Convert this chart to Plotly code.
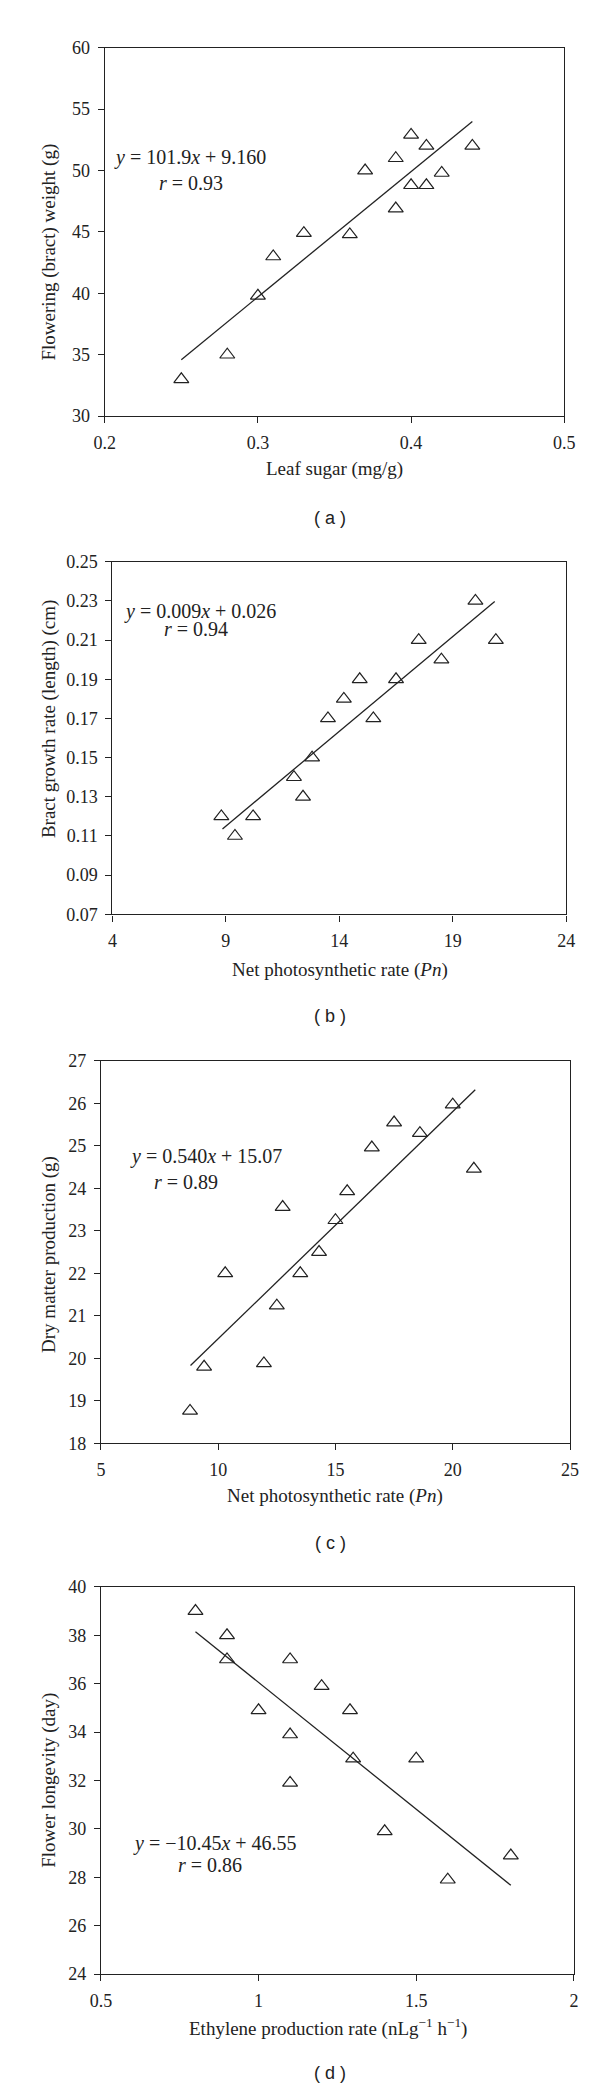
import plotly.graph_objects as go

W, H = 600, 2094

# (a) leaf sugar vs flowering weight
a_x = [0.25, 0.28, 0.30, 0.31, 0.33, 0.36, 0.37, 0.39, 0.39, 0.40, 0.40, 0.41, 0.41, 0.42, 0.44]
a_y = [33.0, 35.0, 39.8, 43.0, 44.9, 44.8, 50.0, 51.0, 46.9, 52.9, 48.8, 52.0, 48.8, 49.8, 52.0]
a_fit_x = [0.25, 0.44]
a_fit_y = [34.6, 54.0]

# (b) Pn vs bract growth rate
b_x = [8.8, 9.4, 10.2, 12.0, 12.4, 12.8, 13.5, 14.2, 14.9, 15.5, 16.5, 17.5, 18.5, 20.0, 20.9]
b_y = [0.12, 0.11, 0.12, 0.14, 0.13, 0.15, 0.17, 0.18, 0.19, 0.17, 0.19, 0.21, 0.20, 0.23, 0.21]
b_fit_x = [8.85, 20.85]
b_fit_y = [0.1136, 0.2297]

# (c) Pn vs dry matter
c_x = [8.8, 9.4, 10.3, 11.95, 12.5, 12.75, 13.5, 14.3, 15.0, 15.5, 16.55, 17.5, 18.6, 20.0, 20.9]
c_y = [18.76, 19.8, 22.0, 19.88, 21.24, 23.56, 22.0, 22.5, 23.25, 23.93, 24.96, 25.55, 25.3, 25.97, 24.46]
c_fit_x = [8.82, 20.96]
c_fit_y = [19.83, 26.32]

# (d) ethylene vs flower longevity
d_x = [0.8, 0.9, 0.9, 1.0, 1.1, 1.1, 1.1, 1.2, 1.29, 1.3, 1.4, 1.5, 1.6, 1.8]
d_y = [39.0, 38.0, 37.0, 34.9, 37.0, 33.9, 31.9, 35.9, 34.9, 32.9, 29.9, 32.9, 27.9, 28.9]
d_fit_x = [0.8, 1.8]
d_fit_y = [38.15, 27.67]

SERIF = "Liberation Serif, Times New Roman, serif"
SANS = "Liberation Sans, Arial, sans-serif"
INK = "#222222"


def px(x):
    return x / W


def py(y):
    return 1 - y / H


fig = go.Figure()

# name, data, box in pixels (left, right, top, bottom), ranges, ticks
panels = [
    ("", a_x, a_y, a_fit_x, a_fit_y, (89, 566, 30, 402), [0.2, 0.5], 0.1, [30, 60], 5, None),
    ("2", b_x, b_y, b_fit_x, b_fit_y, (97, 568, 549, 905), [4, 24], 5, [0.07, 0.25], 0.02, ".2f"),
    ("3", c_x, c_y, c_fit_x, c_fit_y, (85, 572, 1053, 1439), [5, 25], 5, [18, 27], 1, None),
    ("4", d_x, d_y, d_fit_x, d_fit_y, (85, 576, 1584, 1975), [0.5, 2], 0.5, [24, 40], 2, None),
]

axes = {}
for n, xs, ys, fx, fy, box, xr, xd, yr, yd, yfmt in panels:
    l, r, t, b = box
    fig.add_trace(go.Scatter(
        x=fx, y=fy, mode="lines", line=dict(color=INK, width=1.3),
        xaxis="x" + n, yaxis="y" + n, showlegend=False, hoverinfo="skip"
    ))
    fig.add_trace(go.Scatter(
        x=xs, y=ys, mode="markers",
        marker=dict(symbol="triangle-up-open", size=13, color=INK, line=dict(width=1.2, color=INK)),
        xaxis="x" + n, yaxis="y" + n, showlegend=False
    ))
    common = dict(showline=True, linecolor=INK, linewidth=1.3, mirror=True,
                  ticks="outside", ticklen=6, tickwidth=1.3, tickcolor=INK,
                  showgrid=False, zeroline=False, ticklabelstandoff=4,
                  tickfont=dict(family=SERIF, size=18, color=INK))
    axes["xaxis" + n] = dict(common, domain=[px(l), px(r)], range=xr, dtick=xd, tick0=xr[0],
                             anchor="y" + n)
    ya = dict(common, domain=[py(b), py(t)], range=yr, dtick=yd, tick0=yr[0], anchor="x" + n)
    if yfmt:
        ya["tickformat"] = yfmt
    axes["yaxis" + n] = ya

fig.update_layout(**axes)

annos = []


def text(s, x, y, size=19, family=SERIF, angle=0):
    annos.append(dict(text=s, x=px(x), y=py(y), xref="paper", yref="paper",
                      xanchor="center", yanchor="middle", showarrow=False,
                      textangle=angle, font=dict(family=family, size=size, color=INK)))


# equations
text("<i>y</i> = 101.9<i>x</i> + 9.160", 178, 141, size=20)
text("<i>r</i> = 0.93", 179, 167, size=20)
text("<i>y</i> = 0.009<i>x</i> + 0.026", 188, 599, size=20)
text("<i>r</i> = 0.94", 184, 617, size=20)
text("<i>y</i> = 0.540<i>x</i> + 15.07", 194, 1149, size=20)
text("<i>r</i> = 0.89", 173, 1175, size=20)
text("<i>y</i> = −10.45<i>x</i> + 46.55", 203, 1843, size=20)
text("<i>r</i> = 0.86", 198, 1865, size=20)

# axis titles
text("Leaf sugar (mg/g)", 327, 455)
text("Flowering (bract) weight (g)", 31, 236, angle=-90)
text("Net photosynthetic rate (<i>Pn</i>)", 333, 961)
text("Bract growth rate (length) (cm)", 31, 708, angle=-90)
text("Net photosynthetic rate (<i>Pn</i>)", 328, 1492)
text("Dry matter production (g)", 31, 1248, angle=-90)
text("Ethylene production rate (nLg<sup>−1</sup> h<sup>−1</sup>)", 321, 2029)
text("Flower longevity (day)", 31, 1779, angle=-90)

# panel labels
text("( a )", 323, 505, size=18, family=SANS)
text("( b )", 323, 1008, size=18, family=SANS)
text("( c )", 323, 1540, size=18, family=SANS)
text("( d )", 323, 2075, size=18, family=SANS)

fig.update_layout(
    width=W, height=H,
    margin=dict(l=0, r=0, t=0, b=0),
    paper_bgcolor="white", plot_bgcolor="white",
    annotations=annos,
)

fig.write_html("out.html")
